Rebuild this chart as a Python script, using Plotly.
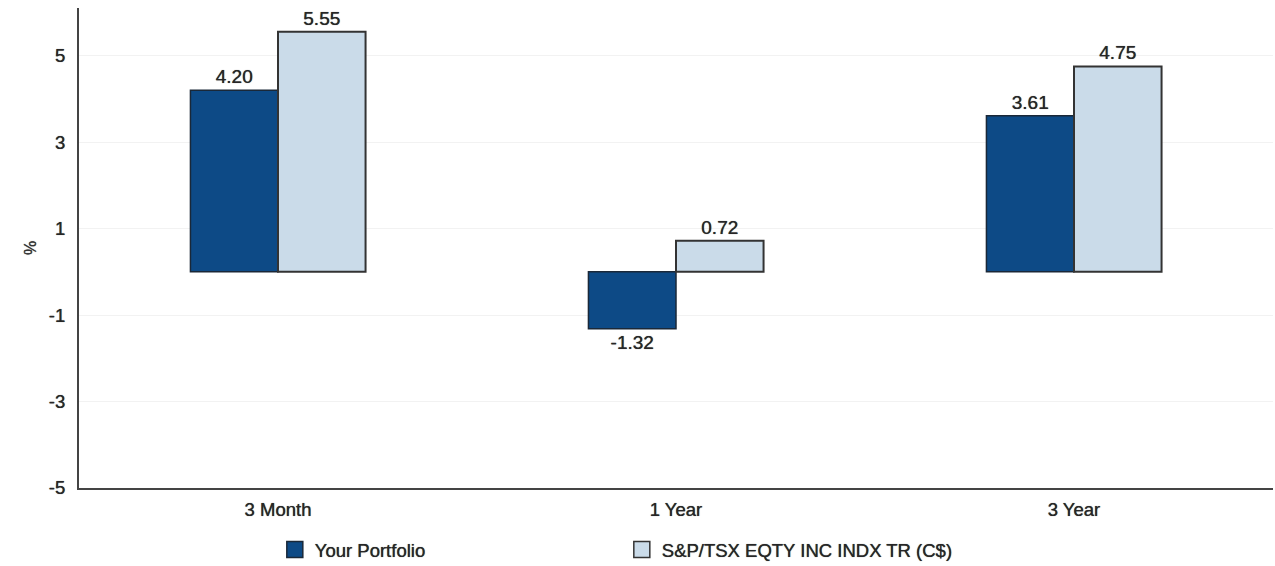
import plotly.graph_objects as go

categories = ["3 Month", "1 Year", "3 Year"]
portfolio = [4.20, -1.32, 3.61]
benchmark = [5.55, 0.72, 4.75]
series_names = ["Your Portfolio", "S&P/TSX EQTY INC INDX TR (C$)"]
y_ticks = [5, 3, 1, -1, -3, -5]

font_family = "Liberation Sans, Arial, sans-serif"
text_color = "#262626"
heavy = "0px 0px 0.7px #333333"   # slightly heavier glyphs
dark_fill, dark_edge = "#0d4a86", "#1a2838"
light_fill, light_edge = "#cadbe9", "#333333"

fig = go.Figure()
fig.add_trace(go.Bar(
    x=categories, y=portfolio, name=series_names[0], showlegend=False,
    marker=dict(color=dark_fill, line=dict(color=dark_edge, width=1.5)),
    text=[f"{v:.2f}" for v in portfolio], textposition="outside",
    textfont=dict(size=19, color=text_color, family=font_family, shadow=heavy),
    cliponaxis=False,
))
fig.add_trace(go.Bar(
    x=categories, y=benchmark, name=series_names[1], showlegend=False,
    marker=dict(color=light_fill, line=dict(color=light_edge, width=2)),
    text=[f"{v:.2f}" for v in benchmark], textposition="outside",
    textfont=dict(size=19, color=text_color, family=font_family, shadow=heavy),
    cliponaxis=False,
))

# Legend entries with larger square swatches
for name, fill, edge in [(series_names[0], dark_fill, dark_edge),
                         (series_names[1], light_fill, light_edge)]:
    fig.add_trace(go.Scatter(
        x=[None], y=[None], mode="markers", name=name,
        marker=dict(symbol="square", size=16, color=fill, line=dict(color=edge, width=1.5)),
        hoverinfo="skip",
    ))

fig.update_layout(
    width=1275, height=566,
    margin=dict(l=79, r=2, t=8, b=78, autoexpand=False),
    paper_bgcolor="white", plot_bgcolor="white",
    barmode="group", bargap=0.56, bargroupgap=0,
    font=dict(family=font_family, color=text_color, size=16),
    showlegend=True,
    legend=dict(
        orientation="h", x=0.164, xanchor="left", y=-0.129, yanchor="middle",
        font=dict(size=18.5, color=text_color, shadow=heavy),
        entrywidth=302, entrywidthmode="pixels",
        traceorder="normal",
    ),
    xaxis=dict(
        showline=True, linecolor="#444444", linewidth=2,
        showgrid=False, ticks="outside", ticklen=4, tickcolor="rgba(0,0,0,0)",
        tickfont=dict(size=18.5, color=text_color, shadow=heavy),
    ),
    yaxis=dict(
        range=[-5, 6.1], tickvals=y_ticks, ticktext=[str(v) for v in y_ticks],
        showline=True, linecolor="#444444", linewidth=2,
        showgrid=True, gridcolor="#f2f2f2", gridwidth=1,
        zeroline=False, ticks="outside", ticklen=8, tickcolor="rgba(0,0,0,0)",
        tickfont=dict(size=18.5, color=text_color, shadow=heavy),
        title=dict(text="%", font=dict(size=16, color="#333333", shadow=heavy), standoff=8),
    ),
)

fig.write_html("out.html")
